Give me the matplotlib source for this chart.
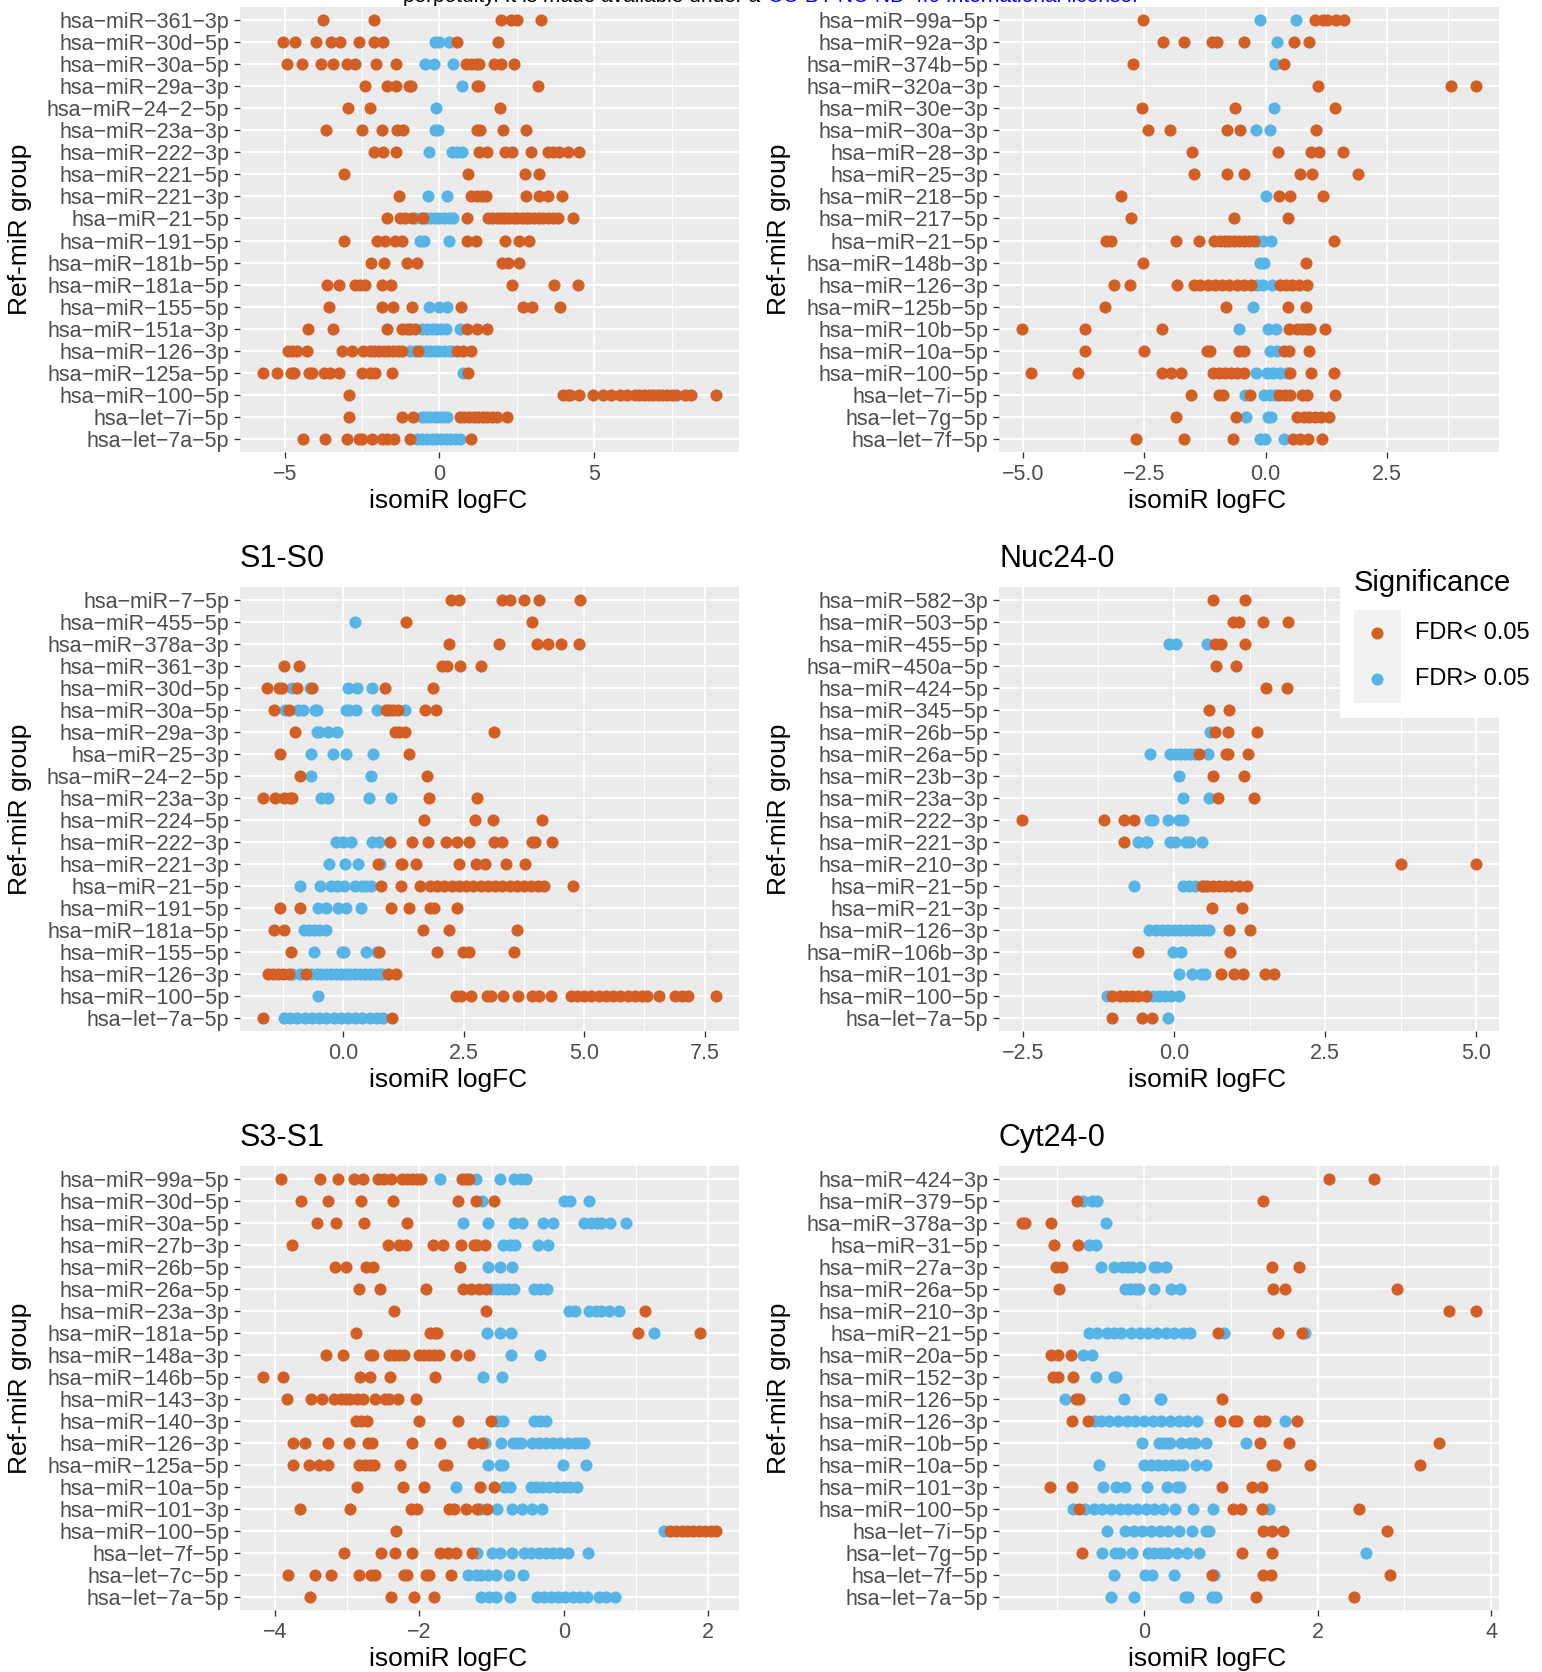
import matplotlib.pyplot as plt
from matplotlib.ticker import MultipleLocator
from matplotlib.patches import Rectangle
from matplotlib.lines import Line2D

plt.rcParams['font.family'] = ['Liberation Sans', 'DejaVu Sans']

SIG = '#D45F24'   # FDR < 0.05
NS = '#57B4E6'    # FDR > 0.05

# ---- panel 1 (top left) ----
p1_rows = ['hsa-miR-361-3p', 'hsa-miR-30d-5p', 'hsa-miR-30a-5p', 'hsa-miR-29a-3p', 'hsa-miR-24-2-5p',
           'hsa-miR-23a-3p', 'hsa-miR-222-3p', 'hsa-miR-221-5p', 'hsa-miR-221-3p', 'hsa-miR-21-5p',
           'hsa-miR-191-5p', 'hsa-miR-181b-5p', 'hsa-miR-181a-5p', 'hsa-miR-155-5p', 'hsa-miR-151a-3p',
           'hsa-miR-126-3p', 'hsa-miR-125a-5p', 'hsa-miR-100-5p', 'hsa-let-7i-5p', 'hsa-let-7a-5p']
p1_sig = [
    [-3.76, -2.13, 1.98, 2.31, 2.49, 3.27],
    [-5.06, -4.67, -4.0, -3.5, -3.22, -2.59, -2.13, -1.83, 0.55, 1.89],
    [-4.94, -4.43, -3.82, -3.43, -2.99, -2.74, -2.06, -1.42, 0.86, 1.01, 1.17, 1.26, 1.76, 1.98, 2.42],
    [-2.41, -1.69, -1.41, -1.0, -0.91, 1.21, 1.29, 3.19],
    [-2.95, -2.26, 1.95],
    [-3.67, -2.50, -1.85, -1.37, -1.18, 1.20, 1.31, 2.06, 2.80],
    [-2.11, -1.83, -1.40, 1.28, 1.53, 2.13, 2.33, 2.94, 3.51, 3.67, 3.87, 4.16, 4.50],
    [-3.10, 0.93, 2.75, 3.20],
    [-1.32, 1.01, 1.20, 1.36, 1.50, 2.80, 3.20, 3.51, 3.96],
    [-1.68, -1.29, -1.10, -0.89, -0.54, 0.90, 1.58, 1.7, 1.85, 2.0, 2.1, 2.25, 2.4, 2.5, 2.65, 2.8,
     2.9, 3.05, 3.2, 3.35, 3.5, 3.65, 3.83, 4.30],
    [-3.09, -2.02, -1.75, -1.43, -1.21, 0.88, 1.18, 2.13, 2.56, 2.88],
    [-2.20, -1.80, -1.05, -0.73, 2.01, 2.22, 2.56],
    [-3.63, -3.23, -2.72, -2.56, -2.40, -1.86, -1.56, 2.33, 3.69, 4.46],
    [-3.58, -1.85, -1.49, -0.88, 0.68, 2.71, 3.00, 3.88],
    [-4.25, -3.45, -1.68, -1.21, -1.05, -0.95, -0.78, 0.88, 1.20, 1.53],
    [-4.90, -4.75, -4.60, -4.27, -3.15, -2.82, -2.47, -2.25, -2.1, -1.95, -1.8, -1.65, -1.5, -1.35,
     -1.2, -0.68, 0.56, 0.77, 1.01],
    [-5.71, -5.26, -4.81, -4.70, -4.22, -4.11, -3.74, -3.52, -3.25, -2.50, -2.23, -2.07, -1.54, 0.93],
    [-2.93, 4.00, 4.15, 4.21, 4.51, 4.96, 5.28, 5.55, 5.82, 6.04, 6.3, 6.45, 6.6, 6.75, 6.9, 7.05,
     7.2, 7.35, 7.5, 7.65, 7.92, 8.13, 8.94],
    [-2.93, -1.21, -0.84, 0.67, 0.8, 0.95, 1.1, 1.25, 1.4, 1.55, 1.7, 1.85, 2.19],
    [-4.40, -3.71, -2.99, -2.61, -2.50, -2.18, -1.86, -1.70, -1.48, -0.95, 1.01],
]
p1_ns = [
    [], [-0.15, -0.02, 0.30], [-0.47, -0.18, 0.43], [0.72], [-0.11], [-0.15, -0.04],
    [-0.34, 0.40, 0.56, 0.74], [], [-0.37, 0.24],
    [-0.8, -0.6, -0.45, -0.3, -0.15, 0.0, 0.15, 0.3, 0.45],
    [-0.62, -0.51, 0.32], [], [], [-0.33, -0.03, 0.24],
    [-0.55, -0.4, -0.25, -0.1, 0.05, 0.2, 0.67],
    [-0.95, -0.8, -0.6, -0.45, -0.3, -0.15, 0.0, 0.15, 0.3, 0.42],
    [0.75], [], [-0.57, -0.45, -0.3, -0.15, 0.0, 0.12, 0.24],
    [-0.73, -0.55, -0.4, -0.25, -0.1, 0.05, 0.2, 0.35, 0.5, 0.67],
]

# ---- panel 2 (top right) ----
p2_rows = ['hsa-miR-99a-5p', 'hsa-miR-92a-3p', 'hsa-miR-374b-5p', 'hsa-miR-320a-3p', 'hsa-miR-30e-3p',
           'hsa-miR-30a-3p', 'hsa-miR-28-3p', 'hsa-miR-25-3p', 'hsa-miR-218-5p', 'hsa-miR-217-5p',
           'hsa-miR-21-5p', 'hsa-miR-148b-3p', 'hsa-miR-126-3p', 'hsa-miR-125b-5p', 'hsa-miR-10b-5p',
           'hsa-miR-10a-5p', 'hsa-miR-100-5p', 'hsa-let-7i-5p', 'hsa-let-7g-5p', 'hsa-let-7f-5p']
p2_sig = [
    [-2.53, 1.02, 1.19, 1.26, 1.45, 1.62],
    [-2.12, -1.69, -1.11, -1.0, -0.44, 0.58, 0.89],
    [-2.74, 0.37],
    [1.07, 3.82, 4.34],
    [-2.56, -0.64, 1.43],
    [-2.42, -1.98, -0.79, -0.54, 1.04],
    [-1.53, 0.25, 0.94, 1.10, 1.59],
    [-1.48, -0.80, -0.45, 0.70, 0.96, 1.90],
    [-2.99, 0.27, 0.49, 1.19],
    [-2.77, -0.65, 0.46],
    [-3.30, -3.20, -1.85, -1.38, -1.07, -0.95, -0.85, -0.75, -0.65, -0.55, -0.45, -0.35, -0.25, 1.41],
    [-2.53, 0.82],
    [-3.13, -2.79, -1.83, -1.48, -1.35, -1.2, -1.05, -0.9, -0.75, -0.6, -0.45, -0.3, 0.30, 0.42,
     0.55, 0.68, 0.85],
    [-3.32, -0.82, 0.46, 0.84],
    [-5.03, -3.73, -2.13, 0.47, 0.65, 0.75, 0.85, 0.92, 1.23],
    [-3.73, -2.51, -1.21, -1.14, -0.56, -0.45, 0.37, 0.47, 0.89],
    [-4.84, -3.87, -2.14, -1.96, -1.74, -1.09, -0.97, -0.85, -0.72, -0.6, -0.45, 0.51, 0.94, 1.41],
    [-1.55, -0.97, -0.89, -0.33, 0.27, 0.4, 0.51, 0.75, 0.85, 1.42],
    [-1.86, -0.61, 0.65, 0.78, 0.9, 1.02, 1.13, 1.30],
    [-2.67, -1.69, -0.67, 0.56, 0.71, 0.87, 1.17],
]
p2_ns = [
    [-0.11, 0.63], [0.23], [0.19], [], [0.17], [-0.21, 0.08], [], [], [0.01], [],
    [-0.18, -0.05, 0.10], [-0.12, -0.03], [-0.18, -0.05, 0.13], [-0.26], [-0.56, 0.04, 0.22],
    [0.08, 0.23], [-0.20, 0.03, 0.15, 0.3, 0.44], [-0.43, -0.04, 0.08, 0.2], [-0.40, 0.04, 0.10],
    [-0.12, -0.01, 0.37],
]

# ---- panel 3: S1-S0 ----
p3_rows = ['hsa-miR-7-5p', 'hsa-miR-455-5p', 'hsa-miR-378a-3p', 'hsa-miR-361-3p', 'hsa-miR-30d-5p',
           'hsa-miR-30a-5p', 'hsa-miR-29a-3p', 'hsa-miR-25-3p', 'hsa-miR-24-2-5p', 'hsa-miR-23a-3p',
           'hsa-miR-224-5p', 'hsa-miR-222-3p', 'hsa-miR-221-3p', 'hsa-miR-21-5p', 'hsa-miR-191-5p',
           'hsa-miR-181a-5p', 'hsa-miR-155-5p', 'hsa-miR-126-3p', 'hsa-miR-100-5p', 'hsa-let-7a-5p']
p3_sig = [
    [2.24, 2.41, 3.30, 3.46, 3.75, 4.06, 4.91],
    [1.30, 3.91],
    [2.20, 3.23, 4.01, 4.25, 4.51, 4.90],
    [-1.22, -0.91, 2.04, 2.16, 2.42, 2.85],
    [-1.58, -1.33, -1.26, -0.96, -0.64, 0.86, 1.87],
    [-1.43, -1.12, 0.88, 0.96, 1.04, 1.13, 1.70, 1.93],
    [-0.99, 1.08, 1.15, 1.28, 3.13],
    [-1.31, 1.37],
    [-0.90, 1.73],
    [-1.67, -1.41, -1.22, -1.10, -1.06, 1.77, 2.77],
    [1.68, 2.73, 3.11, 4.12],
    [0.97, 1.42, 1.76, 2.14, 2.37, 2.60, 3.13, 3.30, 3.92, 3.97, 4.34],
    [0.73, 1.19, 1.23, 1.50, 2.40, 2.75, 2.94, 3.38, 3.78],
    [0.78, 1.19, 1.59, 1.80, 1.95, 2.1, 2.25, 2.4, 2.55, 2.7, 2.85, 3.0, 3.15, 3.3, 3.45, 3.6,
     3.75, 3.9, 4.05, 4.16, 4.77],
    [-1.32, -0.90, 1.0, 1.37, 1.80, 1.89, 2.37],
    [-1.43, -1.22, 1.66, 2.20, 3.61],
    [-1.09, 0.75, 1.94, 2.49, 2.60, 3.54],
    [-1.57, -1.45, -1.35, -1.25, -1.12, -0.77, 0.92, 1.09],
    [2.35, 2.44, 2.66, 2.99, 3.06, 3.32, 3.63, 3.92, 4.06, 4.32, 4.72, 4.85, 5.0, 5.15, 5.3, 5.45,
     5.6, 5.75, 5.9, 6.05, 6.2, 6.31, 6.55, 6.89, 7.03, 7.15, 7.74],
    [-1.66, 1.02],
]
p3_ns = [
    [], [0.25], [], [], [-1.07, -0.69, 0.09, 0.28, 0.59],
    [-1.21, -0.93, -0.83, -0.59, -0.55, 0.06, 0.12, 0.26, 0.70, 1.28],
    [-0.55, -0.50, -0.31, -0.12], [-0.67, -0.22, 0.06, 0.61], [-0.66, 0.57],
    [-0.46, -0.31, 0.54, 0.99], [], [-0.15, -0.01, 0.17, 0.59, 0.75], [-0.30, 0.04, 0.30, 0.77],
    [-0.89, -0.48, -0.26, -0.13, 0.02, 0.25, 0.40, 0.47, 0.57],
    [-0.52, -0.35, -0.10, 0.06, 0.37], [-0.81, -0.7, -0.6, -0.5, -0.36],
    [-0.60, -0.03, 0.02, 0.47, 0.70],
    [-1.06, -0.9, -0.67, -0.55, -0.45, -0.35, -0.25, -0.15, -0.05, 0.05, 0.15, 0.25, 0.35, 0.45,
     0.55, 0.65, 0.75, 0.81],
    [-0.52],
    [-1.22, -1.1, -0.95, -0.8, -0.65, -0.5, -0.35, -0.2, -0.05, 0.1, 0.25, 0.4, 0.55, 0.7, 0.82],
]

# ---- panel 4: Nuc24-0 ----
p4_rows = ['hsa-miR-582-3p', 'hsa-miR-503-5p', 'hsa-miR-455-5p', 'hsa-miR-450a-5p', 'hsa-miR-424-5p',
           'hsa-miR-345-5p', 'hsa-miR-26b-5p', 'hsa-miR-26a-5p', 'hsa-miR-23b-3p', 'hsa-miR-23a-3p',
           'hsa-miR-222-3p', 'hsa-miR-221-3p', 'hsa-miR-210-3p', 'hsa-miR-21-5p', 'hsa-miR-21-3p',
           'hsa-miR-126-3p', 'hsa-miR-106b-3p', 'hsa-miR-101-3p', 'hsa-miR-100-5p', 'hsa-let-7a-5p']
p4_sig = [
    [0.64, 1.17], [0.98, 1.07, 1.47, 1.88], [0.67, 0.77, 1.18], [0.70, 1.02], [1.52, 1.87],
    [0.58, 0.91], [0.67, 0.89, 1.38], [0.41, 0.86, 0.90, 1.23], [0.64, 1.16], [0.72, 1.32],
    [-2.52, -1.16, -0.83, -0.67], [-0.83], [3.76, 5.0],
    [0.46, 0.55, 0.65, 0.75, 0.85, 0.95, 1.07, 1.20], [0.62, 1.12], [0.91, 1.25], [-0.59, 0.92],
    [0.78, 0.99, 1.14, 1.50, 1.66], [-1.02, -0.9, -0.8, -0.7, -0.6, -0.47], [-1.02, -0.53, -0.37],
]
p4_ns = [
    [], [], [-0.09, 0.03, 0.55], [], [], [], [0.59],
    [-0.39, -0.06, 0.02, 0.1, 0.18, 0.26, 0.35, 0.56], [0.09], [0.15, 0.58],
    [-0.39, -0.34, -0.10, 0.08, 0.15], [-0.60, -0.47, -0.45, -0.07, 0.01, 0.20, 0.27, 0.46], [],
    [-0.66, 0.15, 0.25, 0.35, 0.49], [],
    [-0.42, -0.3, -0.2, -0.1, 0.0, 0.1, 0.2, 0.3, 0.4, 0.5, 0.57], [-0.01, 0.12],
    [0.08, 0.30, 0.45, 0.52], [-1.11, -0.45, -0.35, -0.25, -0.15, -0.05, 0.09], [-0.10],
]

# ---- panel 5: S3-S1 ----
p5_rows = ['hsa-miR-99a-5p', 'hsa-miR-30d-5p', 'hsa-miR-30a-5p', 'hsa-miR-27b-3p', 'hsa-miR-26b-5p',
           'hsa-miR-26a-5p', 'hsa-miR-23a-3p', 'hsa-miR-181a-5p', 'hsa-miR-148a-3p', 'hsa-miR-146b-5p',
           'hsa-miR-143-3p', 'hsa-miR-140-3p', 'hsa-miR-126-3p', 'hsa-miR-125a-5p', 'hsa-miR-10a-5p',
           'hsa-miR-101-3p', 'hsa-miR-100-5p', 'hsa-let-7f-5p', 'hsa-let-7c-5p', 'hsa-let-7a-5p']
p5_sig = [
    [-3.91, -3.37, -3.13, -2.91, -2.78, -2.58, -2.49, -2.40, -2.24, -2.17, -2.10, -2.03, -1.98,
     -1.41, -1.36, -1.31],
    [-3.64, -3.27, -2.81, -2.36, -1.47, -1.22, -0.97],
    [-3.42, -3.15, -2.77, -2.17],
    [-3.76, -2.43, -2.28, -2.18, -1.81, -1.68, -1.42, -1.24, -1.20, -1.09],
    [-3.17, -3.02, -2.74, -2.64, -1.44],
    [-2.84, -2.55, -1.91, -1.40, -1.29, -1.18, -1.08],
    [-2.35, -1.08, 1.12],
    [-2.88, -1.85, -1.79, -1.75, 1.02, 1.88],
    [-3.29, -3.06, -2.68, -2.64, -2.42, -2.35, -2.28, -2.22, -2.0, -1.94, -1.87, -1.80, -1.73,
     -1.49, -1.31],
    [-4.17, -3.89, -2.82, -2.68, -2.41, -1.78],
    [-3.83, -3.50, -3.35, -3.18, -3.09, -3.02, -2.96, -2.87, -2.78, -2.62, -2.48, -2.42, -2.29,
     -2.05],
    [-2.88, -2.81, -2.72, -2.0, -1.46, -1.01],
    [-3.75, -3.59, -3.26, -2.97, -2.71, -2.65, -2.10, -1.71, -1.26, -1.13],
    [-3.75, -3.53, -3.39, -3.27, -2.83, -2.76, -2.69, -2.63, -2.27, -1.66, -1.62],
    [-2.87, -2.23, -1.94, -1.16, -0.97],
    [-3.66, -2.96, -2.12, -2.03, -1.59, -1.52, -1.36, -1.20, -1.07],
    [-2.32, 1.47, 1.55, 1.63, 1.71, 1.79, 1.87, 1.95, 2.03, 2.11],
    [-3.04, -2.53, -2.34, -2.10, -1.71, -1.61, -1.50, -1.27],
    [-3.82, -3.45, -3.23, -2.83, -2.67, -2.62, -2.22, -2.17, -1.91, -1.87, -1.56],
    [-3.51, -2.40, -2.07, -1.80],
]
p5_ns = [
    [-1.71, -1.22, -0.88, -0.69, -0.60, -0.53],
    [-1.13, 0.0, 0.09, 0.35],
    [-1.40, -1.05, -0.69, -0.58, -0.29, -0.15, 0.28, 0.37, 0.46, 0.51, 0.64, 0.86],
    [-0.84, -0.74, -0.68, -0.36, -0.22],
    [-1.05, -0.89, -0.72],
    [-1.01, -0.93, -0.85, -0.77, -0.69, -0.41, -0.33, -0.24],
    [0.07, 0.16, 0.35, 0.44, 0.51, 0.62, 0.76],
    [-1.07, -0.88, -0.73, 1.25],
    [-0.73, -0.33],
    [-1.12, -0.86],
    [],
    [-0.92, -0.85, -0.41, -0.33, -0.25],
    [-1.09, -0.87, -0.71, -0.65, -0.59, -0.44, -0.35, -0.25, -0.15, -0.05, 0.05, 0.15, 0.22, 0.28],
    [-1.05, -0.88, -0.84, -0.01, 0.31],
    [-1.49, -0.83, -0.74, -0.46, -0.38, -0.3, -0.2, -0.1, 0.0, 0.08, 0.18],
    [-1.16, -0.93, -0.72, -0.58, -0.44, -0.31],
    [1.38],
    [-1.20, -0.99, -0.88, -0.72, -0.55, -0.45, -0.35, -0.25, -0.15, -0.05, 0.05, 0.34],
    [-1.33, -1.22, -1.15, -1.05, -0.94, -0.76, -0.57],
    [-1.15, -1.04, -0.94, -0.75, -0.37, -0.28, -0.18, -0.08, 0.02, 0.12, 0.22, 0.32, 0.48, 0.58,
     0.71],
]

# ---- panel 6: Cyt24-0 ----
p6_rows = ['hsa-miR-424-3p', 'hsa-miR-379-5p', 'hsa-miR-378a-3p', 'hsa-miR-31-5p', 'hsa-miR-27a-3p',
           'hsa-miR-26a-5p', 'hsa-miR-210-3p', 'hsa-miR-21-5p', 'hsa-miR-20a-5p', 'hsa-miR-152-3p',
           'hsa-miR-126-5p', 'hsa-miR-126-3p', 'hsa-miR-10b-5p', 'hsa-miR-10a-5p', 'hsa-miR-101-3p',
           'hsa-miR-100-5p', 'hsa-let-7i-5p', 'hsa-let-7g-5p', 'hsa-let-7f-5p', 'hsa-let-7a-5p']
p6_sig = [
    [2.13, 2.65], [-0.77, 1.37], [-1.41, -1.37, -1.07], [-1.04, -0.76], [-1.01, -0.95, 1.47, 1.79],
    [-0.98, 1.49, 1.62, 2.92], [3.52, 3.83], [0.85, 1.55, 1.82], [-1.07, -0.99, -0.84],
    [-1.05, -0.99, -0.82], [-0.78, -0.75, 0.90], [-0.83, -0.65, 0.88, 1.04, 1.07, 1.32, 1.40, 1.76],
    [1.34, 1.67, 3.40], [1.47, 1.51, 1.91, 3.18], [-1.08, -0.83, 0.90, 1.24, 1.36],
    [-0.75, 1.03, 1.12, 1.36, 2.48], [1.37, 1.48, 1.60, 2.80], [-0.71, 1.13, 1.47],
    [0.78, 1.37, 1.46, 2.83], [1.29, 2.42],
]
p6_ns = [
    [], [-0.70, -0.60, -0.54], [-0.44], [-0.64, -0.55],
    [-0.50, -0.35, -0.25, -0.19, -0.14, -0.05, 0.11, 0.15, 0.25],
    [-0.22, -0.16, -0.10, -0.06, 0.11, 0.31, 0.42], [],
    [-0.64, -0.54, -0.43, -0.35, -0.26, -0.15, -0.05, 0.05, 0.15, 0.25, 0.35, 0.45, 0.53, 0.92, 1.85],
    [-0.70, -0.60], [-0.55, -0.35, -0.32], [-0.91, -0.23, 0.18, 0.20],
    [-0.58, -0.5, -0.4, -0.3, -0.2, -0.1, 0.0, 0.1, 0.2, 0.3, 0.4, 0.5, 0.61, 1.63],
    [-0.02, 0.17, 0.22, 0.26, 0.30, 0.43, 0.53, 0.59, 0.72, 1.18],
    [-0.52, 0.0, 0.08, 0.16, 0.24, 0.32, 0.40, 0.45, 0.60, 0.71],
    [-0.47, -0.32, -0.22, 0.03, 0.27, 0.38, 0.42],
    [-0.82, -0.68, -0.58, -0.48, -0.38, -0.28, -0.18, -0.08, 0.02, 0.12, 0.22, 0.36, 0.56, 0.80, 1.44],
    [-0.43, -0.22, -0.12, -0.02, 0.08, 0.18, 0.28, 0.40, 0.55, 0.72, 0.75],
    [-0.48, -0.33, -0.28, -0.14, 0.05, 0.12, 0.19, 0.26, 0.38, 0.49, 0.63, 2.56],
    [-0.35, 0.01, 0.09, 0.35, 0.81],
    [-0.38, -0.12, 0.47, 0.51, 0.78, 0.83],
]

W, H = 1542, 1672
fig = plt.figure(figsize=(W / 100, H / 100), dpi=100)


def px(x0, y0, x1, y1):
    return [x0 / W, 1 - y1 / H, (x1 - x0) / W, (y1 - y0) / H]


def panel(rect, rows, sig, ns, step, title=None):
    ax = fig.add_axes(px(*rect))
    ax.set_facecolor('#EBEBEB')
    n = len(rows)
    for i in range(n):
        ax.scatter(ns[i], [n - i] * len(ns[i]), s=76, color=NS, linewidths=0, zorder=3)
    for i in range(n):
        ax.scatter(sig[i], [n - i] * len(sig[i]), s=76, color=SIG, linewidths=0, zorder=3)

    allx = [v for r in sig + ns for v in r]
    lo, hi = min(allx), max(allx)
    pad = 0.05 * (hi - lo)
    ax.set_xlim(lo - pad, hi + pad)
    ax.set_ylim(0.4, n + 0.6)
    ax.set_yticks(range(n, 0, -1))
    ax.set_yticklabels([r.replace('-', '\u2212') for r in rows])
    ax.xaxis.set_major_locator(MultipleLocator(step))
    ax.xaxis.set_minor_locator(MultipleLocator(step / 2))

    ax.set_axisbelow(True)
    ax.grid(which='major', color='white', lw=1.25)
    ax.grid(which='minor', axis='x', color='white', lw=0.65)
    for s in ax.spines.values():
        s.set_visible(False)
    ax.tick_params(which='major', length=4.3, width=0.95, color='#333333',
                   labelsize=15.5, labelcolor='#4D4D4D')
    ax.tick_params(axis='x', which='major', pad=4.5)
    ax.tick_params(axis='y', which='major', pad=3.4)
    ax.tick_params(which='minor', length=0)

    ax.set_xlabel('isomiR logFC', fontsize=19, va='center')
    ax.xaxis.set_label_coords(0.417, -49 / (rect[3] - rect[1]))
    ax.set_ylabel('Ref-miR group', fontsize=19, va='center')
    ax.yaxis.set_label_coords((20 - 240) / 499, 0.5)
    if title:
        ax.set_title(title, loc='left', fontsize=22, pad=14.4)
    return ax


panel((240, 7, 739, 452), p1_rows, p1_sig, p1_ns, 5)
panel((999, 7, 1499, 452), p2_rows, p2_sig, p2_ns, 2.5)
panel((240, 587, 739, 1031), p3_rows, p3_sig, p3_ns, 2.5, 'S1-S0')
panel((999, 587, 1499, 1031), p4_rows, p4_sig, p4_ns, 2.5, 'Nuc24-0')
panel((240, 1166, 739, 1610), p5_rows, p5_sig, p5_ns, 2, 'S3-S1')
panel((999, 1166, 1499, 1610), p6_rows, p6_sig, p6_ns, 2, 'Cyt24-0')

# legend box laid over the Nuc24-0 panel
fig.add_artist(Rectangle((1340 / W, 1 - 718 / H), 202 / W, 178 / H, transform=fig.transFigure,
                         facecolor='white', edgecolor='none', zorder=10))
fig.add_artist(Rectangle((1354 / W, 1 - 703 / H), 47 / W, 93 / H, transform=fig.transFigure,
                         facecolor='#F2F2F2', edgecolor='none', zorder=11))
fig.text(1354 / W, 1 - 583 / H, 'Significance', fontsize=21, va='center', zorder=12)
for yy, col, lab in [(633, SIG, 'FDR< 0.05'), (679, NS, 'FDR> 0.05')]:
    fig.add_artist(Line2D([1377 / W], [1 - yy / H], transform=fig.transFigure, marker='o',
                          markersize=8.7, markeredgewidth=0, color=col, zorder=12))
    fig.text(1415 / W, 1 - yy / H, lab, fontsize=17, va='center', zorder=12)

# licence line, mostly above the top edge
fig.text(403 / W, 1 - 2 / H, 'perpetuity. It is made available under a', fontsize=15,
         va='baseline')
fig.text(768 / W, 1 - 2 / H, 'CC-BY-NC-ND 4.0 International license.', fontsize=15,
         va='baseline', color='#0000FF')

fig.savefig('out.png', dpi=100)
